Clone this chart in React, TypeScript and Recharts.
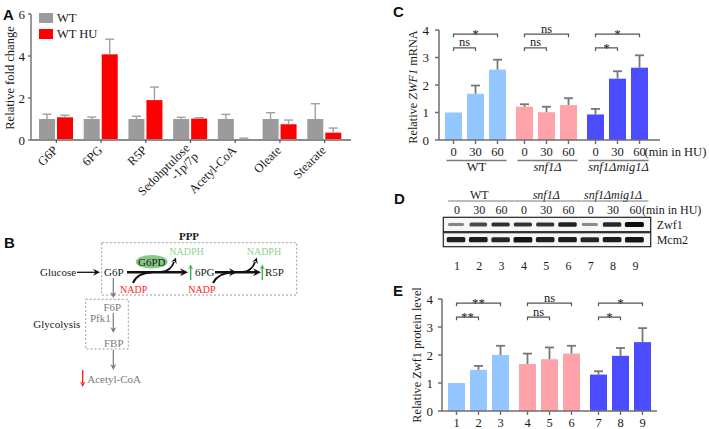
import React from 'react';
import { BarChart, Bar, XAxis, YAxis, Legend } from 'recharts';

const SERIF = '"Liberation Serif", "Times New Roman", serif';
const SANS = '"Liberation Sans", Arial, sans-serif';
const TXT = '#1a1a1a';
const AX = '#6e6e6e';

// ---------- Panel A data ----------
const metabolites = ['G6P', '6PG', 'R5P', 'Sedohptulose\n-1p/7p', 'Acetyl-CoA', 'Oleate', 'Stearate'];
const seriesA = ['WT', 'WT HU'];
const wtFold = [1.0, 1.0, 1.0, 1.0, 1.0, 1.0, 1.0];
const wtFoldSd = [0.23, 0.09, 0.13, 0.08, 0.22, 0.3, 0.73];
const huFold = [1.08, 4.08, 1.9, 1.02, 0.04, 0.75, 0.35];
const huFoldSd = [0.1, 0.72, 0.62, 0.04, 0.05, 0.2, 0.22];
const ticksA = [0, 2, 4, 6];

// ---------- Panels C / E data ----------
const strains = ['WT', 'snf1Δ', 'snf1Δmig1Δ'];
const timePoints = ['0', '30', '60'];
const mrna0 = [1.0, 1.21, 0.93];
const mrna0Sd = [0, 0.09, 0.2];
const mrna30 = [1.68, 1.01, 2.23];
const mrna30Sd = [0.3, 0.2, 0.27];
const mrna60 = [2.56, 1.27, 2.63];
const mrna60Sd = [0.36, 0.25, 0.45];
const mrnaSig30 = ['ns', 'ns', '*'];
const mrnaSig60 = ['*', 'ns', '*'];

const prot0 = [1.0, 1.68, 1.3];
const prot0Sd = [0, 0.37, 0.12];
const prot30 = [1.47, 1.85, 1.97];
const prot30Sd = [0.14, 0.42, 0.28];
const prot60 = [2.0, 2.05, 2.46];
const prot60Sd = [0.33, 0.28, 0.5];
const protSig30 = ['**', 'ns', '*'];
const protSig60 = ['**', 'ns', '*'];

const laneLabels = ['1', '2', '3', '4', '5', '6', '7', '8', '9'];
const ticks04 = [0, 1, 2, 3, 4];

// ---------- Panel D (blot band signal) ----------
const zwf1Signal = [0.3, 0.65, 0.8, 0.78, 0.78, 0.88, 0.28, 0.85, 1.0];
const mcm2Signal = [0.88, 0.9, 0.85, 0.95, 0.88, 0.9, 0.85, 0.9, 0.95];

// styles
const GROUP_COLORS = ['#94c6ff', '#ffa3aa', '#4b4bff'];
const A_COLORS = ['#9b9b9b', '#ff0000'];
const BAR_GAP = 5;
const SIG_LOW = 3.35;
const SIG_HIGH = 3.85;

const dataA = metabolites.map((name, i) => ({
  name,
  wt: wtFold[i],
  wtSd: wtFoldSd[i],
  hu: huFold[i],
  huSd: huFoldSd[i],
}));

const dataC = strains.map((strain, i) => ({
  strain,
  v0: mrna0[i], e0: mrna0Sd[i],
  v30: mrna30[i], e30: mrna30Sd[i], s30: mrnaSig30[i],
  v60: mrna60[i], e60: mrna60Sd[i], s60: mrnaSig60[i],
}));

const dataE = strains.map((strain, i) => ({
  strain,
  v0: prot0[i], e0: prot0Sd[i],
  v30: prot30[i], e30: prot30Sd[i], s30: protSig30[i],
  v60: prot60[i], e60: prot60Sd[i], s60: protSig60[i],
}));

type ShapeCfg = {
  valKey: string;
  sdKey: string;
  fill: (i: number) => string;
  errColor: string;
  errW: number;
  cap: number;
  tickLabel?: (i: number) => string;
  labelDy?: number;
  sigKey?: string;
  sigLevel?: number;
  sigSpan?: number;
  suffix?: (i: number) => string | null;
};

const barShape = (cfg: ShapeCfg) => (p: any) => {
  const { x, y, width, height, index, payload } = p;
  const v = payload[cfg.valKey];
  const sd = payload[cfg.sdKey];
  const ppu = v > 0 ? height / v : 0;
  const cx = x + width / 2;
  const base = y + height;
  const els: any[] = [];
  els.push(<rect key="r" x={x} y={y} width={width} height={height} fill={cfg.fill(index)} />);
  if (sd > 0) {
    const top = y - sd * ppu;
    els.push(<line key="e1" x1={cx} x2={cx} y1={y} y2={top} stroke={cfg.errColor} strokeWidth={cfg.errW} />);
    els.push(<line key="e2" x1={cx - cfg.cap} x2={cx + cfg.cap} y1={top} y2={top} stroke={cfg.errColor} strokeWidth={cfg.errW} />);
  }
  if (cfg.tickLabel) {
    els.push(<line key="t" x1={cx} x2={cx} y1={base} y2={base + 4} stroke={AX} strokeWidth={1.4} />);
    els.push(
      <text key="tl" x={cx} y={base + (cfg.labelDy ?? 16)} textAnchor="middle" fontSize={12.5} fill={TXT} fontFamily={SERIF}>
        {cfg.tickLabel(index)}
      </text>
    );
  }
  if (cfg.suffix) {
    const s = cfg.suffix(index);
    if (s) {
      els.push(
        <text key="sf" x={cx + 5} y={base + (cfg.labelDy ?? 16)} textAnchor="start" fontSize={12.5} fill={TXT} fontFamily={SERIF}>
          {s}
        </text>
      );
    }
  }
  if (cfg.sigKey && cfg.sigLevel && cfg.sigSpan) {
    const by = base - cfg.sigLevel * ppu;
    const x0 = cx - cfg.sigSpan * (width + BAR_GAP);
    const lab = String(payload[cfg.sigKey]);
    const star = lab.indexOf('*') >= 0;
    els.push(
      <path key="b" d={`M${x0} ${by + 3} V${by} H${cx} V${by + 3}`} fill="none" stroke="#555" strokeWidth={1.2} />
    );
    els.push(
      <text key="bt" x={(x0 + cx) / 2} y={star ? by + 4 : by - 1.5} textAnchor="middle" fontSize={star ? 13 : 12.5} fill={TXT} fontFamily={SERIF}>
        {lab}
      </text>
    );
  }
  return <g>{els}</g>;
};

const yTitle = (dx: number, dy: number, fs: number, parts: any) => (props: any) => {
  const vb = props.viewBox || { x: 0, y: 0, width: 0, height: 0 };
  const cx = vb.x + dx;
  const cy = vb.y + vb.height / 2 + dy;
  return (
    <text
      x={cx}
      y={cy}
      transform={`rotate(-90 ${cx} ${cy})`}
      textAnchor="middle"
      dominantBaseline="central"
      fontSize={fs}
      fill={TXT}
      fontFamily={SERIF}
    >
      {parts}
    </text>
  );
};

const MetaboliteTick = (p: any) => {
  const { x, y, payload } = p;
  const lines = String(payload.value).split('\n');
  return (
    <g transform={`translate(${x + 2},${y + 6})`}>
      <text transform="rotate(-45)" textAnchor="end" fontSize={12.5} fill={TXT} fontFamily={SERIF}>
        {lines.map((l, i) => (
          <tspan key={i} x={0} dy={i === 0 ? (lines.length > 1 ? -3 : 0) : 12}>
            {l}
          </tspan>
        ))}
      </text>
    </g>
  );
};

const GroupTick = (p: any) => {
  const { x, y, payload } = p;
  const name = String(payload.value);
  return (
    <g>
      <line x1={x - 29} x2={x + 31} y1={y + 20.5} y2={y + 20.5} stroke="#7a7a7a" strokeWidth={1.3} />
      <text x={x + 1} y={y + 30.5} textAnchor="middle" fontSize={12.5} fill={TXT} fontFamily={SERIF} fontStyle={name === 'WT' ? 'normal' : 'italic'}>
        {name}
      </text>
    </g>
  );
};

const LegendA = () => (
  <div style={{ fontFamily: SERIF, fontSize: 12.5, color: TXT }}>
    {seriesA.map((s, i) => (
      <div key={s} style={{ display: 'flex', alignItems: 'center', height: 10, marginBottom: 6 }}>
        <div style={{ width: 14, height: 10, background: A_COLORS[i] }} />
        <span style={{ marginLeft: 4, lineHeight: '10px', whiteSpace: 'nowrap' }}>{s}</span>
      </div>
    ))}
  </div>
);

function ChartA() {
  return (
    <BarChart width={360} height={200} data={dataA} margin={{ top: 14, right: 9, left: 0, bottom: 0 }} barSize={16} barGap={2}>
      <XAxis
        dataKey="name"
        height={60}
        interval={0}
        tick={<MetaboliteTick />}
        tickSize={3}
        tickMargin={2}
        padding={{ left: 3, right: 4 }}
        axisLine={{ stroke: '#8c8c8c', strokeWidth: 2 }}
        tickLine={{ stroke: '#555', strokeWidth: 1.2 }}
      />
      <YAxis
        width={31}
        domain={[0, 6]}
        ticks={ticksA}
        tickSize={3}
        tickMargin={3}
        axisLine={{ stroke: AX, strokeWidth: 1.4 }}
        tickLine={{ stroke: AX, strokeWidth: 1.4 }}
        tick={{ fontSize: 13, fill: TXT, fontFamily: SERIF }}
        label={yTitle(10, 1, 12.5, 'Relative fold change')}
      />
      <Legend
        layout="vertical"
        align="center"
        verticalAlign="middle"
        wrapperStyle={{ left: 39, top: 13, width: 90, height: 32 }}
        content={() => <LegendA />}
      />
      <Bar
        dataKey="wt"
        name={seriesA[0]}
        isAnimationActive={false}
        shape={barShape({ valKey: 'wt', sdKey: 'wtSd', fill: () => A_COLORS[0], errColor: '#a0a0a0', errW: 1.4, cap: 4.5 })}
      />
      <Bar
        dataKey="hu"
        name={seriesA[1]}
        isAnimationActive={false}
        shape={barShape({ valKey: 'hu', sdKey: 'huSd', fill: () => A_COLORS[1], errColor: '#a0a0a0', errW: 1.4, cap: 4.5 })}
      />
    </BarChart>
  );
}

function ChartC() {
  return (
    <BarChart width={329} height={180} data={dataC} margin={{ top: 30, right: 49, left: 0, bottom: 0 }} barSize={17} barGap={BAR_GAP}>
      <XAxis
        dataKey="strain"
        height={40}
        interval={0}
        tick={<GroupTick />}
        tickLine={false}
        tickSize={0}
        tickMargin={0}
        padding={{ left: 1, right: 7 }}
        axisLine={{ stroke: AX, strokeWidth: 1.5 }}
      />
      <YAxis
        width={59}
        domain={[0, 4]}
        ticks={ticks04}
        tickSize={4}
        tickMargin={6}
        axisLine={{ stroke: AX, strokeWidth: 1.5 }}
        tickLine={{ stroke: AX, strokeWidth: 1.5 }}
        tick={{ fontSize: 13, fill: TXT, fontFamily: SERIF }}
        label={yTitle(33, 2, 12.3, [
          <tspan key="a">Relative </tspan>,
          <tspan key="b" fontStyle="italic">ZWF1</tspan>,
          <tspan key="c"> mRNA</tspan>,
        ])}
      />
      <Bar
        dataKey="v0"
        isAnimationActive={false}
        shape={barShape({ valKey: 'v0', sdKey: 'e0', fill: (i) => GROUP_COLORS[i], errColor: '#777', errW: 1.8, cap: 4.5, tickLabel: () => timePoints[0] })}
      />
      <Bar
        dataKey="v30"
        isAnimationActive={false}
        shape={barShape({ valKey: 'v30', sdKey: 'e30', fill: (i) => GROUP_COLORS[i], errColor: '#777', errW: 1.8, cap: 4.5, tickLabel: () => timePoints[1], sigKey: 's30', sigLevel: SIG_LOW, sigSpan: 1 })}
      />
      <Bar
        dataKey="v60"
        isAnimationActive={false}
        shape={barShape({
          valKey: 'v60', sdKey: 'e60', fill: (i) => GROUP_COLORS[i], errColor: '#777', errW: 1.8, cap: 4.5,
          tickLabel: () => timePoints[2], sigKey: 's60', sigLevel: SIG_HIGH, sigSpan: 2,
          suffix: (i) => (i === strains.length - 1 ? '(min in HU)' : null),
        })}
      />
    </BarChart>
  );
}

function ChartE() {
  return (
    <BarChart width={290} height={159} data={dataE} margin={{ top: 29, right: 13, left: 0, bottom: 0 }} barSize={17} barGap={BAR_GAP}>
      <XAxis
        dataKey="strain"
        height={18}
        interval={0}
        tick={false}
        tickLine={false}
        padding={{ left: 1, right: 1 }}
        axisLine={{ stroke: AX, strokeWidth: 1.5 }}
      />
      <YAxis
        width={62}
        domain={[0, 4]}
        ticks={ticks04}
        tickSize={4}
        tickMargin={5}
        axisLine={{ stroke: AX, strokeWidth: 1.5 }}
        tickLine={{ stroke: AX, strokeWidth: 1.5 }}
        tick={{ fontSize: 13, fill: TXT, fontFamily: SERIF }}
        label={yTitle(36.5, 0, 12.3, 'Relative Zwf1 protein level')}
      />
      <Bar
        dataKey="v0"
        isAnimationActive={false}
        shape={barShape({ valKey: 'v0', sdKey: 'e0', fill: (i) => GROUP_COLORS[i], errColor: '#777', errW: 1.8, cap: 4.5, tickLabel: (i) => laneLabels[i * 3], labelDy: 15.5 })}
      />
      <Bar
        dataKey="v30"
        isAnimationActive={false}
        shape={barShape({ valKey: 'v30', sdKey: 'e30', fill: (i) => GROUP_COLORS[i], errColor: '#777', errW: 1.8, cap: 4.5, tickLabel: (i) => laneLabels[i * 3 + 1], labelDy: 15.5, sigKey: 's30', sigLevel: SIG_LOW, sigSpan: 1 })}
      />
      <Bar
        dataKey="v60"
        isAnimationActive={false}
        shape={barShape({ valKey: 'v60', sdKey: 'e60', fill: (i) => GROUP_COLORS[i], errColor: '#777', errW: 1.8, cap: 4.5, tickLabel: (i) => laneLabels[i * 3 + 2], labelDy: 15.5, sigKey: 's60', sigLevel: SIG_HIGH, sigSpan: 2 })}
      />
    </BarChart>
  );
}

const Head = ({ x, y, ang, c, s = 6 }: { x: number; y: number; ang: number; c: string; s?: number }) => (
  <path
    d={`M0 0 L${-s} ${-s * 0.5} L${-s * 0.65} 0 L${-s} ${s * 0.5} Z`}
    fill={c}
    transform={`translate(${x} ${y}) rotate(${ang})`}
  />
);

const GRAY = '#7a7a7a';
const GREEN_T = '#8fd38f';
const GREEN_A = '#2fb24a';
const RED = '#ff1a1a';

function Overlay() {
  const laneX = laneLabels.map((_, i) => 457 + 22.3 * i);
  const timeRow = strains.flatMap(() => timePoints);
  return (
    <svg width={709} height={429} style={{ position: 'absolute', left: 0, top: 0, pointerEvents: 'none' }} fontFamily={SERIF}>
      <defs>
        <filter id="blur" x="-20%" y="-100%" width="140%" height="300%">
          <feGaussianBlur stdDeviation="0.7" />
        </filter>
      </defs>
      {/* panel letters */}
      <g fontFamily={SANS} fontWeight="bold" fontSize={15} fill="#111">
        <text x={3} y={20}>A</text>
        <text x={4} y={248}>B</text>
        <text x={393} y={17}>C</text>
        <text x={394} y={204}>D</text>
        <text x={393} y={296}>E</text>
      </g>

      {/* Panel B diagram */}
      <g fontSize={11} fill={TXT}>
        <text x={189} y={240} textAnchor="middle" fontWeight="bold">PPP</text>
        <rect x={101.7} y={242.7} width={195} height={52.3} fill="none" stroke="#9a9a9a" strokeDasharray="2 2" />
        <text x={40} y={276}>Glucose</text>
        <line x1={77} x2={96} y1={272.3} y2={272.3} stroke="#111" strokeWidth={1.3} />
        <Head x={100} y={272.3} ang={0} c="#111" s={7} />
        <text x={104} y={276}>G6P</text>
        <line x1={127} x2={183} y1={272.3} y2={272.3} stroke="#111" strokeWidth={2.4} />
        <Head x={188} y={272.3} ang={0} c="#111" s={8} />
        <path d="M133 283 Q137 273 152 272.3" fill="none" stroke="#111" strokeWidth={2} />
        <path d="M161 272 Q171 271 174 262" fill="none" stroke="#111" strokeWidth={1.8} />
        <Head x={176} y={257.5} ang={-68} c="#111" s={6} />
        <ellipse cx={151.7} cy={261.7} rx={16} ry={6.8} fill="#86c886" />
        <text x={151.7} y={265.5} textAnchor="middle" fontSize={11}>G6PD</text>
        <text x={169.3} y={255} fontSize={10} fill={GREEN_T}>NADPH</text>
        <text x={120} y={292.5} fontSize={10} fill={RED}>NADP</text>
        <line x1={190.7} x2={190.7} y1={280} y2={268} stroke={GREEN_A} strokeWidth={1.3} />
        <Head x={190.7} y={264.5} ang={-90} c={GREEN_A} s={5} />
        <text x={195} y={276}>6PG</text>
        <line x1={215} x2={257} y1={272.3} y2={272.3} stroke="#111" strokeWidth={2.4} />
        <Head x={237} y={272.3} ang={0} c="#111" s={8} />
        <Head x={261} y={272.3} ang={0} c="#111" s={8} />
        <path d="M213 283 Q218 273 233 272.3" fill="none" stroke="#111" strokeWidth={2} />
        <path d="M243 272 Q252 271 255 262" fill="none" stroke="#111" strokeWidth={1.8} />
        <Head x={257} y={257.5} ang={-68} c="#111" s={6} />
        <text x={246.7} y={255} fontSize={10} fill={GREEN_T}>NADPH</text>
        <text x={188.3} y={292.5} fontSize={10} fill={RED}>NADP</text>
        <line x1={262.3} x2={262.3} y1={280} y2={268} stroke={GREEN_A} strokeWidth={1.3} />
        <Head x={262.3} y={264.5} ang={-90} c={GREEN_A} s={5} />
        <text x={265} y={276}>R5P</text>

        <line x1={113.3} x2={113.3} y1={278} y2={294} stroke={GRAY} strokeWidth={1.2} />
        <Head x={113.3} y={298} ang={90} c={GRAY} s={6} />
        <rect x={85.7} y={299.3} width={42.6} height={49.7} fill="none" stroke="#9a9a9a" strokeDasharray="2 2" />
        <text x={103.5} y={310.5} fill={GRAY}>F6P</text>
        <text x={90} y={322} fill={GRAY}>Pfk1</text>
        <line x1={113.3} x2={113.3} y1={313} y2={329} stroke={GRAY} strokeWidth={1.2} />
        <Head x={113.3} y={333} ang={90} c={GRAY} s={6} />
        <text x={104} y={346.5} fill={GRAY}>FBP</text>
        <text x={33.3} y={328}>Glycolysis</text>
        <line x1={113.3} x2={113.3} y1={350} y2={366} stroke={GRAY} strokeWidth={1.2} />
        <Head x={113.3} y={370} ang={90} c={GRAY} s={6} />
        <text x={87.3} y={383} fill={GRAY}>Acetyl-CoA</text>
        <line x1={82.7} x2={82.7} y1={370} y2={383} stroke={RED} strokeWidth={1.3} />
        <Head x={82.7} y={387} ang={90} c={RED} s={5.5} />
      </g>

      {/* Panel D blot */}
      <g fontSize={12} fill={TXT}>
        {strains.map((s, gi) => {
          const x0 = laneX[gi * 3] - 9;
          const x1 = laneX[gi * 3 + 2] + 13;
          const cx = (laneX[gi * 3] + laneX[gi * 3 + 2]) / 2;
          return (
            <g key={s}>
              <text x={cx} y={198.5} textAnchor="middle" fontStyle={s === 'WT' ? 'normal' : 'italic'}>{s}</text>
              <line x1={x0} x2={x1} y1={201} y2={201} stroke="#7a7a7a" strokeWidth={1.2} />
            </g>
          );
        })}
        {timeRow.map((t, i) => (
          <text key={i} x={laneX[i]} y={214} textAnchor="middle">{t}</text>
        ))}
        <text x={642} y={214}>(min in HU)</text>
        <rect x={443.3} y={217.3} width={207.4} height={14.4} fill="#f6f6f6" stroke="#222" strokeWidth={1.2} />
        <rect x={443.3} y={232.7} width={207.4} height={14} fill="#f6f6f6" stroke="#222" strokeWidth={1.2} />
        {zwf1Signal.map((sg, i) => {
          const h = 2 + 2.8 * sg;
          const w = 15 + 4 * sg;
          return (
            <rect key={'z' + i} x={laneX[i] - 1 - w / 2} y={224.5 - h / 2} width={w} height={h} rx={1.5} fill="#111" opacity={0.25 + 0.75 * sg} filter="url(#blur)" />
          );
        })}
        {mcm2Signal.map((sg, i) => {
          const h = 3 + 2.5 * sg;
          const w = 16 + 3 * sg;
          return (
            <rect key={'m' + i} x={laneX[i] - 1 - w / 2} y={239.7 - h / 2} width={w} height={h} rx={1.5} fill="#111" opacity={0.3 + 0.7 * sg} filter="url(#blur)" />
          );
        })}
        <text x={656.7} y={228.5}>Zwf1</text>
        <text x={656.7} y={244}>Mcm2</text>
        {laneLabels.map((l, i) => (
          <text key={'n' + i} x={laneX[i]} y={270} textAnchor="middle">{l}</text>
        ))}
      </g>
    </svg>
  );
}

export default function App() {
  return (
    <div style={{ position: 'absolute', left: 0, top: 0, width: 709, height: 429, background: '#fff', fontFamily: SERIF, overflow: 'hidden' }}>
      <div style={{ position: 'absolute', left: 0, top: 0 }}>
        <ChartA />
      </div>
      <div style={{ position: 'absolute', left: 380, top: 0 }}>
        <ChartC />
      </div>
      <div style={{ position: 'absolute', left: 380, top: 270 }}>
        <ChartE />
      </div>
      <Overlay />
    </div>
  );
}
